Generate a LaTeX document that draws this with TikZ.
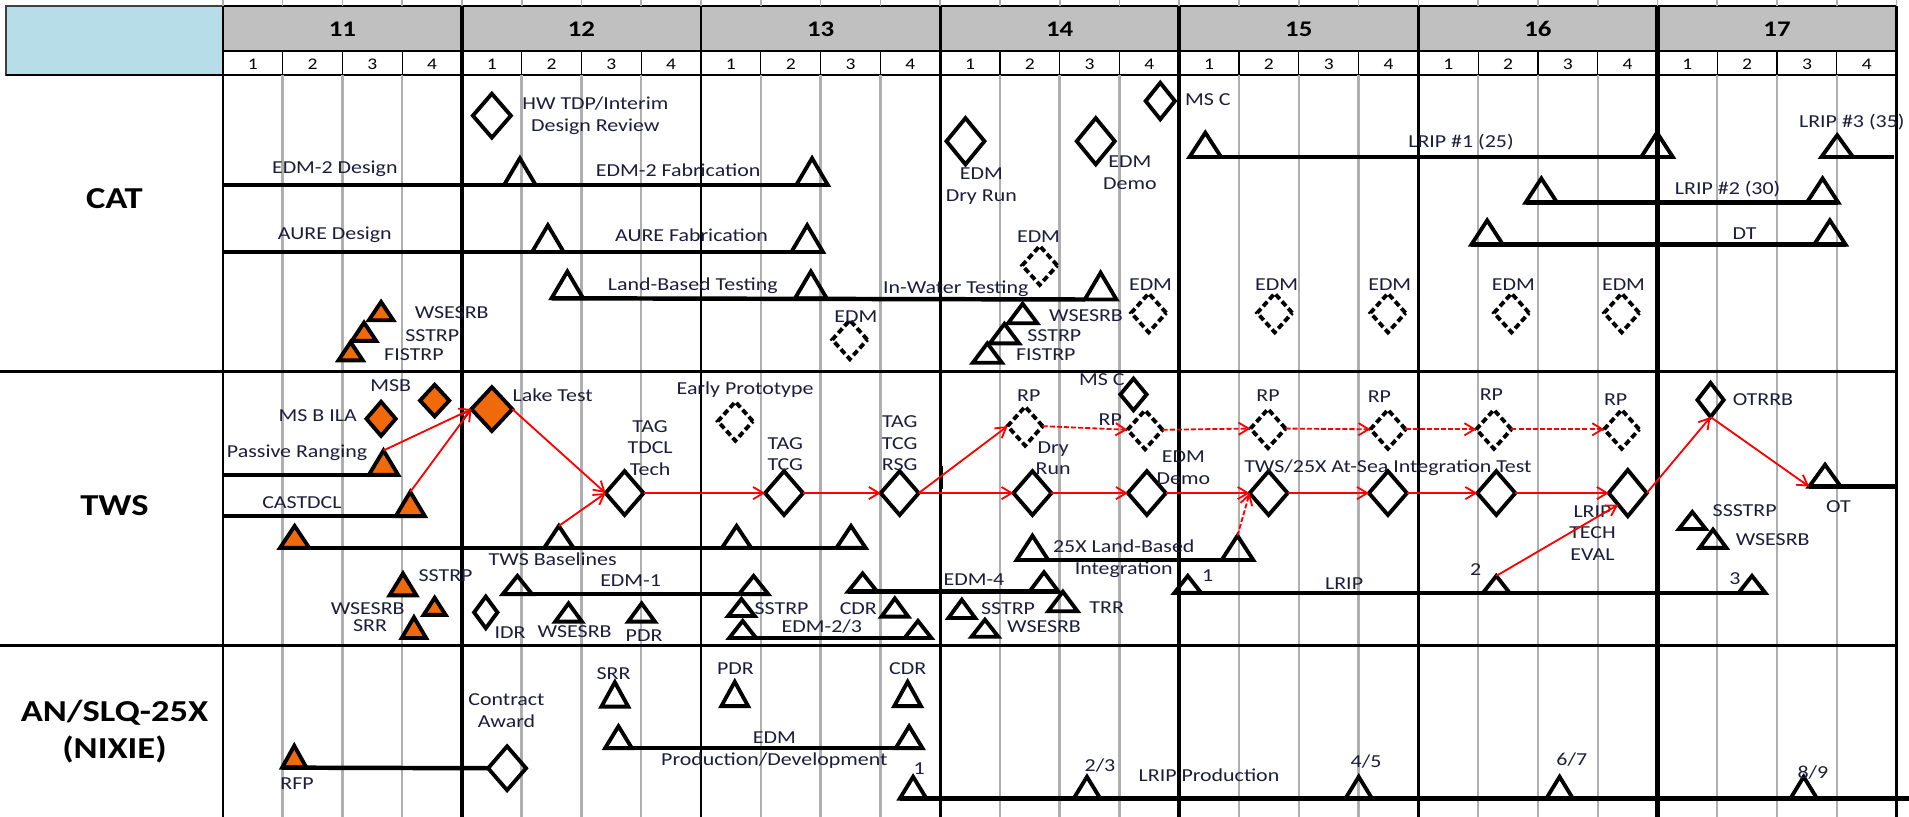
\documentclass[tikz,border=0pt]{standalone}
\usepackage{fontspec}
\setmainfont{Carlito}[FakeStretch=1.2]
\usetikzlibrary{shapes.geometric,arrows.meta}
\definecolor{txtc}{RGB}{28,28,60}
\definecolor{orng}{RGB}{240,105,10}
\definecolor{hdrgray}{RGB}{192,192,192}
\definecolor{hdrblue}{RGB}{183,221,232}
\definecolor{gridg}{RGB}{175,175,175}
\begin{document}
\begin{tikzpicture}[x=0.6pt,y=-0.6pt,
  lbl/.style={inner sep=0pt,outer sep=0pt,align=center,text=txtc,font=\fontsize{9}{10.6}\selectfont},
  hdr/.style={inner sep=0pt,text=black,font=\fontsize{11}{12}\selectfont\bfseries},
  qlbl/.style={inner sep=0pt,text=black,font=\fontsize{8}{9}\selectfont},
  rowlbl/.style={inner sep=0pt,align=center,text=black,font=\fontsize{15}{18.6}\selectfont\bfseries},
  tri/.style 2 args={regular polygon,regular polygon sides=3,draw=black,line width=1.9pt,inner sep=0pt,outer sep=0pt,minimum size={#1*0.6928pt},yscale={#2*1.1547/#1},anchor=side 2},
  otri/.style 2 args={tri={#1}{#2},fill=orng},
  dia/.style 2 args={diamond,draw=black,line width=1.9pt,inner sep=0pt,outer sep=0pt,minimum width={#1*0.72pt},minimum height={#2*0.6pt}},
  odia/.style 2 args={dia={#1}{#2},fill=orng},
  ddia/.style={dia={24}{32},dash pattern=on 3pt off 1.6pt},
  bar/.style={line width=2.2pt},
  rarr/.style={draw=red,line width=0.9pt,-{Straight Barb[length=5pt,width=6pt]}},
  rdot/.style={rarr,dash pattern=on 2.5pt off 1pt},
  gline/.style={draw=gridg,line width=1.2pt},
]
\useasboundingbox (0,0) rectangle (1568,671);
% ---------------- header ----------------
\fill[hdrblue] (5,5) rectangle (183,62);
\draw[black!75,line width=0.8pt] (5,5) rectangle (183,62);
\fill[hdrgray] (183,5) rectangle (1558,42);
\draw[line width=0.8pt] (183,5) -- (1558,5);
\draw[line width=0.8pt] (183,42) -- (1558,42);
\draw[line width=1pt] (5,62) -- (1558,62);
\foreach \k in {0,...,28}{
  \pgfmathsetmacro\xx{183+49.1*\k}
  \draw[gridg,line width=0.8pt] (\xx,0) -- (\xx,5);
  \draw[line width=0.6pt] (\xx,42) -- (\xx,62);
}
\foreach \k in {1,...,27}{
  \pgfmathsetmacro\xx{183+49.1*\k}
  \draw[gline] (\xx,62) -- (\xx,671);
}
\foreach \k in {0,...,27}{
  \pgfmathsetmacro\xc{183+49.1*\k+24.55}
  \pgfmathtruncatemacro\qn{mod(\k,4)+1}
  \node[qlbl] (q\k) at (\xc,52.5) {\qn};
}
\foreach \yr [count=\i from 0] in {11,...,17}{
  \pgfmathsetmacro\xc{183+196.4*\i+98.2}
  \node[hdr] (yr\yr) at (\xc,24) {\yr};
}
% year lines
\draw[line width=1.2pt] (183,5) -- (183,671);
\draw[line width=2.2pt] (379.4,5) -- (379.4,671);
\draw[line width=1.2pt] (575.8,5) -- (575.8,671);
\draw[line width=1.5pt] (772.2,5) -- (772.2,671);
\draw[line width=2.2pt] (968.6,5) -- (968.6,671);
\draw[line width=1.2pt] (1165,5) -- (1165,671);
\draw[line width=2.2pt] (1361.4,5) -- (1361.4,671);
\draw[line width=1.2pt] (1557.8,5) -- (1557.8,671);
% row separators
\draw[line width=1.3pt] (0,305) -- (1558,305);
\draw[line width=1.3pt] (0,530) -- (1558,530);
% row labels
\node[rowlbl] (rcat) at (94,163) {CAT};
\node[rowlbl] (rtws) at (94,415) {TWS};
\node[rowlbl] (ran) at (94,601) {AN/SLQ-25X\\(NIXIE)};

% ================= CAT =================
\node[dia={26}{36}] (hwtdp) at (404,95) {};
\node[lbl] (lhwtdp) at (489,95) {HW TDP/Interim\\Design Review};
\coordinate (edm2s) at (183,152);
\node[tri={26}{22}] (edm2a) at (427,152) {};
\node[tri={26}{22}] (edm2b) at (667,152) {};
\node[lbl] (ledm2d) at (275,139) {EDM-2 Design};
\node[lbl] (ledm2f) at (557,140) {EDM-2 Fabrication};
\coordinate (aures) at (183,207);
\node[tri={26}{22}] (aurea) at (450,207) {};
\node[tri={26}{22}] (aureb) at (663,207) {};
\node[lbl] (laured) at (275,193) {AURE Design};
\node[lbl] (lauref) at (568,193) {AURE Fabrication};
\node[tri={26}{22}] (lbt1) at (466,245) {};
\node[tri={26}{22}] (lbt2) at (666,245) {};
\node[tri={26}{22}] (iwt) at (904,246) {};
\node[lbl] (llbt) at (569,235) {Land-Based Testing};
\node[lbl] (liwt) at (785,237) {In-Water Testing};
\node[otri={20}{15}] (cws) at (313,263) {};
\node[otri={20}{15}] (css) at (299,280) {};
\node[otri={20}{15}] (cfi) at (288,296) {};
\node[lbl] (lcws) at (371,257) {WSESRB};
\node[lbl] (lcss) at (355,276) {SSTRP};
\node[lbl] (lcfi) at (340,291) {FISTRP};
\node[dia={20}{30}] (msc1) at (953,83) {};
\node[lbl] (lmsc1) at (992,82) {MS C};
\node[dia={26}{38}] (edmdry) at (793,116) {};
\node[lbl] (ledmdry) at (806,153) {EDM\\Dry Run};
\node[dia={26}{38}] (edmdemo) at (900,116) {};
\node[lbl] (ledmdemo) at (928,142) {EDM\\Demo};
\node[ddia] (cedmx) at (854,218) {};
\node[lbl] (lcedmx) at (853,194) {EDM};
\node[ddia] (cedmy) at (698,279) {};
\node[lbl] (lcedmy) at (703,260) {EDM};
\node[tri={24}{16}] (cws2) at (840,265.5) {};
\node[tri={24}{16}] (css2) at (825,282) {};
\node[tri={24}{16}] (cfi2) at (811,298) {};
\node[lbl] (lcws2) at (892,259) {WSESRB};
\node[lbl] (lcss2) at (866,276) {SSTRP};
\node[lbl] (lcfi2) at (859,291) {FISTRP};
\foreach \x/\n in {943.5/a,1047/b,1140/c,1241.5/d,1332/e}{
  \node[ddia] (cedm\n) at (\x,257) {};
  \node[lbl] (lcedm\n) at (\x+1.5,234) {EDM};
}
\node[tri={26}{20}] (lr1a) at (990,129) {};
\node[tri={26}{20}] (lr1b) at (1361,129) {};
\node[lbl] (llr1) at (1200,117) {LRIP \#1 (25)};
\node[tri={26}{18}] (lr3a) at (1509,129) {};
\coordinate (lr3e) at (1556,129);
\node[lbl] (llr3) at (1521,100) {LRIP \#3 (35)};
\node[tri={26}{20}] (lr2a) at (1266,166.5) {};
\node[tri={26}{20}] (lr2b) at (1497,166.5) {};
\node[lbl] (llr2) at (1419,155) {LRIP \#2 (30)};
\node[tri={26}{20}] (dta) at (1221.5,201) {};
\node[tri={26}{20}] (dtb) at (1503,201) {};
\node[lbl] (ldt) at (1433,192) {DT};
% CAT bars
\draw[bar] (edm2s) -- (edm2b.corner 3);
\draw[bar] (aures) -- (aureb.corner 3);
\draw[bar] (lbt1.corner 2) -- (iwt.corner 2);
\draw[bar] (lr1a.corner 2) -- (lr1b.corner 3);
\draw[bar] (lr3a.corner 2) -- (lr3e);
\draw[bar] (lr2a.corner 2) -- (lr2b.corner 3);
\draw[bar] (dta.corner 2) -- (dtb.corner 3);

% ================= TWS =================
\coordinate (prs) at (183,390);
\node[otri={24}{20}] (prt) at (315,390) {};
\node[lbl] (lpr) at (244,372) {Passive Ranging};
\coordinate (cass) at (183,424);
\node[otri={24}{20}] (cast) at (337,424) {};
\node[lbl] (lcast) at (248,413) {CASTDCL};
\node[otri={24}{18}] (bl0) at (242,450) {};
\node[tri={24}{18}] (bl1) at (459,450) {};
\node[tri={24}{18}] (bl2) at (605,450) {};
\node[tri={24}{18}] (bl3) at (699,450) {};
\node[lbl] (lbase) at (454,459) {TWS Baselines};
\node[odia={20}{26}] (msb) at (357,329) {};
\node[lbl] (lmsb) at (321,317) {MSB};
\node[odia={20}{28}] (msbila) at (313,344) {};
\node[lbl] (lmsbila) at (261,341) {MS B ILA};
\node[odia={28}{36}] (lake) at (404,336) {};
\node[lbl] (llake) at (454,325) {Lake Test};
\node[dia={26}{36}] (tdcl) at (513,405) {};
\node[lbl] (ltdcl) at (534,368) {TAG\\TDCL\\Tech};
\node[ddia] (early) at (604,346) {};
\node[lbl] (learly) at (612,320) {Early Prototype};
\node[dia={26}{36}] (tcg) at (644,405) {};
\node[lbl] (ltcg) at (645,373) {TAG\\TCG};
\node[dia={26}{36}] (rsg) at (739,405) {};
\node[lbl] (lrsg) at (739,364) {TAG\\TCG\\RSG};
\draw[line width=1.5pt] (773,383) -- (773,402);
\node[ddia] (rp1) at (842,350) {};
\node[lbl] (lrp1) at (845,325) {RP};
\node[dia={26}{36}] (dry) at (848,405) {};
\node[lbl] (ldry) at (865,376.5) {Dry\\Run};
\node[dia={18}{26}] (msc2) at (931,324) {};
\node[lbl] (lmsc2) at (905,312) {MS C};
\node[ddia] (rp2) at (940.5,353) {};
\node[lbl] (lrp2) at (912,345) {RP};
\node[dia={26}{36}] (demo2) at (942,405) {};
\node[lbl] (ldemo2) at (972,384) {EDM\\Demo};
\node[ddia] (rp3) at (1041.5,352) {};
\node[lbl] (lrp3) at (1041.5,325) {RP};
\node[dia={26}{36}] (sea) at (1042,405) {};
\node[lbl] (lsea) at (1140,384) {TWS/25X At-Sea Integration Test};
\node[ddia] (rp4) at (1140,352.6) {};
\node[lbl] (lrp4) at (1133,326) {RP};
\node[ddia] (rp5) at (1227,352.6) {};
\node[lbl] (lrp5) at (1225,324.5) {RP};
\node[ddia] (rp6) at (1332,352.6) {};
\node[lbl] (lrp6) at (1327,328) {RP};
\node[dia={26}{36}] (d2) at (1140,405) {};
\node[dia={26}{36}] (d3) at (1229,405) {};
\node[dia={26}{38}] (d4) at (1337,405) {};
\node[lbl] (ltech) at (1308,437.5) {LRIP\\TECH\\EVAL};
\node[dia={18}{28}] (otrrb) at (1405,328.5) {};
\node[lbl] (lotrrb) at (1448,328.5) {OTRRB};
\node[tri={26}{18}] (ot) at (1499,399.7) {};
\coordinate (ote) at (1558,399.7);
\node[lbl] (lot) at (1510,416) {OT};
\node[tri={22}{14}] (ssstrp) at (1390,434.5) {};
\node[lbl] (lssstrp) at (1433,419.5) {SSSTRP};
\node[tri={22}{15}] (tws3) at (1407,450) {};
\node[lbl] (ltws3) at (1456,443) {WSESRB};
\node[tri={26}{20}] (lb25a) at (848,460) {};
\node[tri={26}{20}] (lb25b) at (1016.4,460) {};
\node[lbl] (llb25) at (923,459) {25X Land-Based\\Integration};
\coordinate (lrs) at (966,487);
\node[tri={22}{14}] (lrt1) at (975.6,487) {};
\node[lbl] (llrt1) at (992,473) {1};
\node[tri={22}{14}] (lrt2) at (1229,487) {};
\node[lbl] (llrt2) at (1212,468) {2};
\node[tri={22}{14}] (lrt3) at (1439,487) {};
\node[lbl] (llrt3) at (1425,475) {3};
\node[lbl] (llrip) at (1104,479) {LRIP};
\node[tri={24}{15}] (e4a) at (708.5,486) {};
\node[tri={24}{16}] (e4b) at (857.5,486) {};
\node[lbl] (le4) at (800,476) {EDM-4};
\node[tri={24}{16}] (trr) at (873,502) {};
\node[lbl] (ltrr) at (909,499) {TRR};
\node[tri={22}{15}] (tss2) at (790,507.6) {};
\node[lbl] (ltss2) at (828,500) {SSTRP};
\node[tri={22}{14}] (tws2) at (809,523) {};
\node[lbl] (ltws2) at (857.5,515) {WSESRB};
\node[tri={22}{15}] (cdr1) at (735,506.5) {};
\node[lbl] (lcdr1) at (705,499.5) {CDR};
\node[tri={22}{14}] (e23a) at (610,524) {};
\node[tri={22}{14}] (e23b) at (754,524) {};
\node[lbl] (le23) at (675,515) {EDM-2/3};
\node[tri={22}{14}] (tss1) at (609,506) {};
\node[lbl] (ltss1) at (642,500) {SSTRP};
\node[tri={24}{15}] (e1a) at (425,488) {};
\node[tri={24}{15}] (e1b) at (619,488) {};
\node[lbl] (le1) at (518,477) {EDM-1};
\node[tri={22}{15}] (tws1) at (467,510.6) {};
\node[lbl] (ltws1) at (472,519) {WSESRB};
\node[tri={22}{15}] (pdr1) at (527,510.6) {};
\node[lbl] (lpdr1) at (529,522) {PDR};
\node[dia={16}{26}] (idr) at (399,503) {};
\node[lbl] (lidr) at (419,520) {IDR};
\node[otri={22}{18}] (oss) at (331,489) {};
\node[lbl] (loss) at (366,473) {SSTRP};
\node[otri={18}{14}] (ows) at (357,505) {};
\node[lbl] (lows) at (302,500) {WSESRB};
\node[otri={20}{17}] (osrr) at (340,524) {};
\node[lbl] (losrr) at (304,514) {SRR};
% TWS bars
\draw[bar] (prs) -- (prt.corner 3);
\draw[bar] (cass) -- (cast.corner 3);
\draw[bar] (bl0.corner 2) -- (bl3.corner 3);
\draw[bar] (lb25a.corner 2) -- (lb25b.corner 3);
\draw[bar] (lrs) -- (lrt3.corner 3);
\draw[bar] (e4a.corner 2) -- (e4b.corner 3);
\draw[bar] (e1a.corner 2) -- (e1b.corner 3);
\draw[bar] (e23a.corner 2) -- (e23b.corner 3);
\draw[bar] (ot.corner 2) -- (ote);
% TWS red connectors
\draw[rarr] (prt.corner 1) -- (lake.west);
\draw[rarr] (cast.corner 1) -- (lake.west);
\draw[rarr] (lake.east) -- (tdcl.west);
\draw[rarr] (bl1.corner 1) -- (tdcl.west);
\draw[rarr] (tdcl.east) -- (tcg.west);
\draw[rarr] (tcg.east) -- (rsg.west);
\draw[rarr] (rsg.east) -- (rp1.west);
\draw[rarr] (rsg.east) -- (dry.west);
\draw[rdot] (rp1.east) -- (rp2.west);
\draw[rarr] (dry.east) -- (demo2.west);
\draw[rdot] (rp2.east) -- (rp3.west);
\draw[rarr] (demo2.east) -- (sea.west);
\draw[rdot] (lb25b.corner 1) -- (sea.west);
\draw[rdot] (rp3.east) -- (rp4.west);
\draw[rdot] (rp4.east) -- (rp5.west);
\draw[rdot] (rp5.east) -- (rp6.west);
\draw[rarr] (sea.east) -- (d2.west);
\draw[rarr] (d2.east) -- (d3.west);
\draw[rarr] (d3.east) -- (d4.west);
\draw[rarr] (lrt2.corner 1) -- (d4.south west);
\draw[rarr] (d4.east) -- (otrrb.south);
\draw[rarr] (otrrb.south) -- (ot.corner 2);

% ================= AN/SLQ-25X =================
\node[otri={20}{18}] (rfp) at (241.7,630.5) {};
\node[lbl] (lrfp) at (244,644) {RFP};
\node[dia={26}{36}] (ca) at (416.5,631) {};
\node[lbl] (lca) at (416,583.5) {Contract\\Award};
\node[tri={22}{20}] (srr) at (505,580.4) {};
\node[lbl] (lsrr) at (504,553) {SRR};
\node[tri={22}{20}] (pdr2) at (603.5,580) {};
\node[lbl] (lpdr2) at (604,549) {PDR};
\node[tri={22}{20}] (cdr2) at (745.5,580) {};
\node[lbl] (lcdr2) at (745.5,549) {CDR};
\node[tri={22}{18}] (ep1) at (508,614.5) {};
\node[tri={22}{18}] (ep2) at (746.7,614.5) {};
\node[lbl] (lep) at (636,616) {EDM\\Production/Development};
\node[tri={22}{18}] (lp1) at (750,656) {};
\node[lbl] (llp1) at (755,631) {1};
\node[tri={22}{18}] (lp2) at (892.8,656) {};
\node[lbl] (llp2) at (903.5,629) {2/3};
\node[lbl] (llprod) at (993,636.5) {LRIP Production};
\node[tri={22}{18}] (lp3) at (1116,656) {};
\node[lbl] (llp3) at (1122,625.6) {4/5};
\node[tri={22}{18}] (lp4) at (1281,656) {};
\node[lbl] (llp4) at (1291,624) {6/7};
\node[tri={22}{18}] (lp5) at (1481.5,656) {};
\node[lbl] (llp5) at (1489,634.5) {8/9};
\coordinate (lpe) at (1568,656);
\draw[bar] (rfp.corner 2) -- (ca.west);
\draw[bar] (ep1.corner 2) -- (ep2.corner 3);
\draw[bar] (lp1.corner 2) -- (lpe);
\end{tikzpicture}
\end{document}
